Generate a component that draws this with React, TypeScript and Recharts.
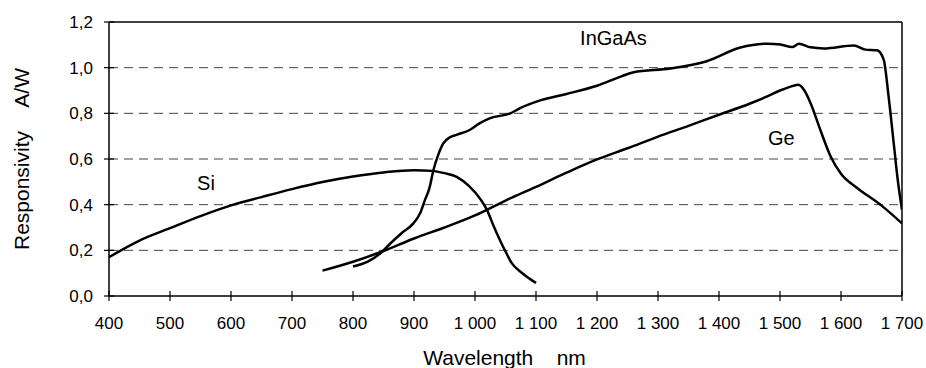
import React from 'react';
import { LineChart, Line, XAxis, YAxis, CartesianGrid, ReferenceLine, ReferenceDot } from 'recharts';

// ---- Data ----
const siWavelength = [400, 450, 500, 550, 600, 650, 700, 750, 800, 850, 900, 930, 950, 970, 990, 1010, 1020, 1030, 1040, 1050, 1060, 1075, 1090, 1100];
const siResponsivity = [0.17, 0.243, 0.297, 0.35, 0.397, 0.433, 0.468, 0.499, 0.523, 0.541, 0.551, 0.548, 0.538, 0.522, 0.482, 0.42, 0.375, 0.31, 0.25, 0.195, 0.145, 0.105, 0.075, 0.057];

const geWavelength = [750, 800, 850, 900, 950, 1000, 1050, 1100, 1150, 1200, 1250, 1300, 1350, 1400, 1450, 1480, 1500, 1515, 1530, 1540, 1550, 1566, 1583, 1600, 1627, 1665, 1700];
const geResponsivity = [0.111, 0.15, 0.197, 0.252, 0.3, 0.353, 0.418, 0.478, 0.54, 0.598, 0.647, 0.698, 0.745, 0.794, 0.842, 0.875, 0.9, 0.915, 0.925, 0.9, 0.845, 0.728, 0.611, 0.535, 0.472, 0.399, 0.318];

const ingaasWavelength = [800, 825, 845, 862, 880, 899, 910, 918, 925, 932, 940, 948, 959, 970, 992, 1008, 1025, 1058, 1074, 1107, 1150, 1200, 1240, 1260, 1320, 1380, 1435, 1479, 1501, 1520, 1531, 1550, 1572, 1621, 1640, 1659, 1670, 1678, 1687, 1693, 1700];
const ingaasResponsivity = [0.129, 0.152, 0.187, 0.232, 0.276, 0.318, 0.362, 0.421, 0.47, 0.553, 0.62, 0.668, 0.695, 0.706, 0.728, 0.757, 0.779, 0.8, 0.823, 0.857, 0.885, 0.921, 0.962, 0.98, 0.996, 1.028, 1.088, 1.105, 1.101, 1.09, 1.105, 1.089, 1.084, 1.097, 1.079, 1.076, 1.035, 0.874, 0.655, 0.509, 0.377];

const xTicks = [400, 500, 600, 700, 800, 900, 1000, 1100, 1200, 1300, 1400, 1500, 1600, 1700];
const yTicks = [0, 0.2, 0.4, 0.6, 0.8, 1.0, 1.2];

const seriesNames = ['Si', 'InGaAs', 'Ge'];
const seriesLabelX = [559, 1227, 1502];
const seriesLabelY = [0.496, 1.129, 0.693];

const xTitle = 'Wavelength\u00A0\u00A0\u00A0\u00A0nm';
const yTitle = 'Responsivity\u00A0\u00A0\u00A0\u00A0A/W';

// ---- helpers ----
const toPoints = (xs: number[], ys: number[]) => xs.map((x, i) => ({ x, y: ys[i] }));
const siData = toPoints(siWavelength, siResponsivity);
const geData = toPoints(geWavelength, geResponsivity);
const ingaasData = toPoints(ingaasWavelength, ingaasResponsivity);

const FONT = '"Liberation Sans", Arial, Helvetica, sans-serif';
const TICK_FONT = 17;
const TITLE_FONT = 21;
const LABEL_FONT = 20;
const X_TICK_MARGIN = 21;
const Y_TICK_MARGIN = 16;

const fmtX = (v: number) => (v >= 1000 ? `${Math.floor(v / 1000)} ${String(v % 1000).padStart(3, '0')}` : String(v));
const fmtY = (v: number) => v.toFixed(1).replace('.', ',');

const XTick = (props: any) => {
  const { x, y, payload } = props;
  const axisY = y - X_TICK_MARGIN;
  return (
    <g>
      <line x1={x} x2={x} y1={axisY - 5} y2={axisY + 5} stroke="#000" strokeWidth={1.2} />
      <text x={x} y={y} dy="0.71em" textAnchor="middle" fontSize={TICK_FONT} fontFamily={FONT} fill="#000">
        {fmtX(payload.value)}
      </text>
    </g>
  );
};

const YTick = (props: any) => {
  const { x, y, payload } = props;
  const axisX = x + Y_TICK_MARGIN;
  return (
    <g>
      <line x1={axisX - 5} x2={axisX + 5} y1={y} y2={y} stroke="#000" strokeWidth={1.2} />
      <text x={x} y={y} dy="0.36em" textAnchor="end" fontSize={TICK_FONT} fontFamily={FONT} fill="#000">
        {fmtY(payload.value)}
      </text>
    </g>
  );
};

const XTitle = (props: any) => {
  const vb = props.viewBox || { x: 109, y: 296, width: 793, height: 72 };
  return (
    <text x={vb.x + vb.width / 2 - 1} y={vb.y + 69} textAnchor="middle" fontSize={TITLE_FONT} fontFamily={FONT} fill="#000">
      {xTitle}
    </text>
  );
};

const YTitle = (props: any) => {
  const vb = props.viewBox || { x: 0, y: 22, width: 109, height: 274 };
  const cx = vb.x + 29;
  const cy = vb.y + vb.height / 2;
  return (
    <text x={0} y={0} transform={`translate(${cx},${cy}) rotate(-90)`} textAnchor="middle" fontSize={TITLE_FONT} fontFamily={FONT} fill="#000">
      {yTitle}
    </text>
  );
};

const makeLabelShape = (name: string) => (p: any) => (
  <text x={p.cx} y={p.cy} dy="0.36em" textAnchor="middle" fontSize={LABEL_FONT} fontFamily={FONT} fill="#000">
    {name}
  </text>
);

export default function App() {
  return (
    <div style={{ position: 'absolute', left: 0, top: 0, width: 926, height: 368, background: '#fff' }}>
      <LineChart width={926} height={368} margin={{ top: 22, right: 24, bottom: 0, left: 0 }}>
        <CartesianGrid vertical={false} stroke="#444" strokeDasharray="9 6" horizontalValues={[0.2, 0.4, 0.6, 0.8, 1.0]} />
        <XAxis
          type="number"
          dataKey="x"
          domain={[400, 1700]}
          ticks={xTicks}
          interval={0}
          allowDataOverflow
          height={72}
          stroke="#000"
          strokeWidth={1.5}
          tickLine={false}
          tickSize={0}
          tickMargin={X_TICK_MARGIN}
          tick={<XTick />}
          label={{ content: <XTitle /> }}
        />
        <YAxis
          type="number"
          dataKey="y"
          domain={[0, 1.2]}
          ticks={yTicks}
          interval={0}
          allowDataOverflow
          width={109}
          stroke="#000"
          strokeWidth={1.5}
          tickLine={false}
          tickSize={0}
          tickMargin={Y_TICK_MARGIN}
          tick={<YTick />}
          label={{ content: <YTitle /> }}
        />
        <ReferenceLine y={1.2} stroke="#000" strokeWidth={1.5} />
        <ReferenceLine x={1700} stroke="#000" strokeWidth={1.5} />
        <Line data={siData} dataKey="y" type="monotone" stroke="#000" strokeWidth={2.5} dot={false} isAnimationActive={false} />
        <Line data={ingaasData} dataKey="y" type="monotone" stroke="#000" strokeWidth={2.5} dot={false} isAnimationActive={false} />
        <Line data={geData} dataKey="y" type="monotone" stroke="#000" strokeWidth={2.5} dot={false} isAnimationActive={false} />
        {seriesNames.map((name, i) => (
          <ReferenceDot key={name} x={seriesLabelX[i]} y={seriesLabelY[i]} r={1} shape={makeLabelShape(name)} />
        ))}
      </LineChart>
    </div>
  );
}
